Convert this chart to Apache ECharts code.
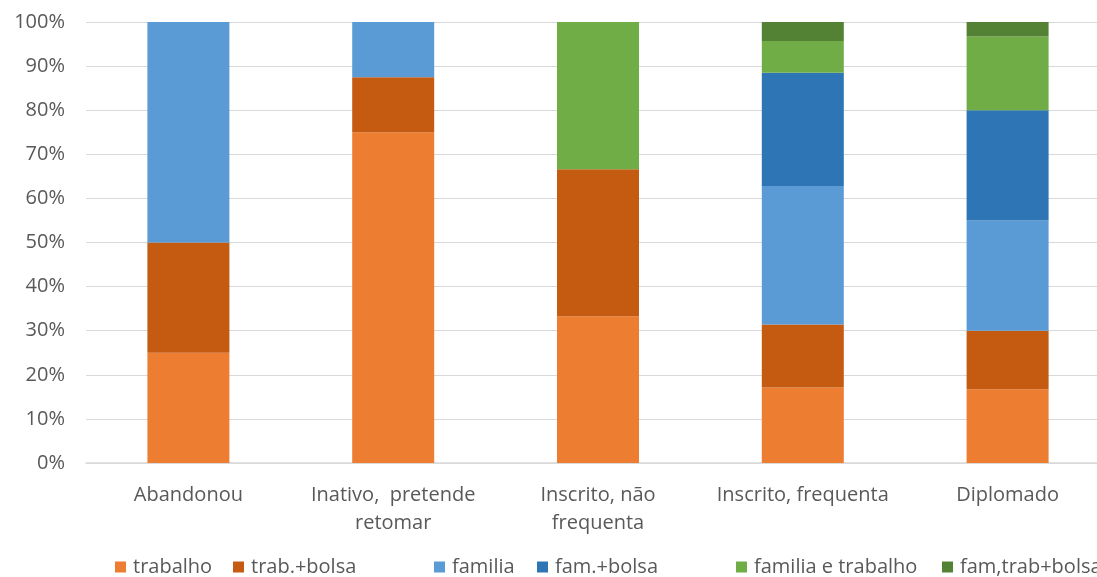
<!DOCTYPE html>
<html><head><meta charset="utf-8">
<script src="https://cdn.jsdelivr.net/npm/echarts@6/dist/echarts.min.js"></script>
<style>html,body{margin:0;padding:0;background:#fff;overflow:hidden}#c{width:1130px;height:577px}</style>
</head><body><div id="c"></div>
<script>
const categories = ["Abandonou", "Inativo,  pretende\nretomar", "Inscrito, não\nfrequenta", "Inscrito, frequenta", "Diplomado"];
const seriesNames = ["trabalho", "trab.+bolsa", "familia", "fam.+bolsa", "familia e trabalho", "fam,trab+bolsa"];
const trabalho = [25, 75, 33.3, 17.1, 16.7];
const trabBolsa = [25, 12.5, 33.3, 14.3, 13.3];
const familia = [50, 12.5, 0, 31.4, 25];
const famBolsa = [0, 0, 0, 25.7, 25];
const familiaTrabalho = [0, 0, 33.4, 7.2, 16.7];
const famTrabBolsa = [0, 0, 0, 4.3, 3.3];
const yTicks = [0, 10, 20, 30, 40, 50, 60, 70, 80, 90, 100];

const colors = ["#ED7D31", "#C55A11", "#5B9BD5", "#2E75B6", "#70AD47", "#548235"];
const values = [trabalho, trabBolsa, familia, famBolsa, familiaTrabalho, famTrabBolsa];
const legendLeft = [110, 228, 429, 532, 731, 937];
const font = "'Open Sans', 'Liberation Sans', sans-serif";

const chart = echarts.init(document.getElementById('c'), null, {renderer: 'canvas'});
chart.setOption({
  animation: false,
  color: colors,
  grid: {left: 86, top: 22, width: 1024, height: 441, containLabel: false},
  legend: seriesNames.map((n, i) => ({
    data: [n], left: legendLeft[i], top: 552, icon: 'rect', itemWidth: 11, itemHeight: 11,
    textStyle: {color: '#595959', fontSize: 20, fontFamily: font, padding: [0, 0, 0, 2]}, selectedMode: false
  })),
  xAxis: {
    type: 'category', data: categories,
    axisLine: {lineStyle: {color: '#d9d9d9', width: 1.5}},
    axisTick: {show: false},
    axisLabel: {color: '#595959', fontSize: 20, fontFamily: font, margin: 18, lineHeight: 28, interval: 0}
  },
  yAxis: {
    type: 'value', min: 0, max: 100, interval: 10,
    axisLine: {show: false}, axisTick: {show: false},
    axisLabel: {color: '#595959', fontSize: 20, fontFamily: font, margin: 21,
      formatter: v => yTicks.includes(v) ? v + '%' : ''},
    splitLine: {lineStyle: {color: '#d9d9d9', width: 1}}
  },
  series: seriesNames.map((n, i) => ({
    name: n, type: 'bar', stack: 'total', barWidth: 82, data: values[i],
    itemStyle: {color: colors[i]}
  }))
});
</script></body></html>
